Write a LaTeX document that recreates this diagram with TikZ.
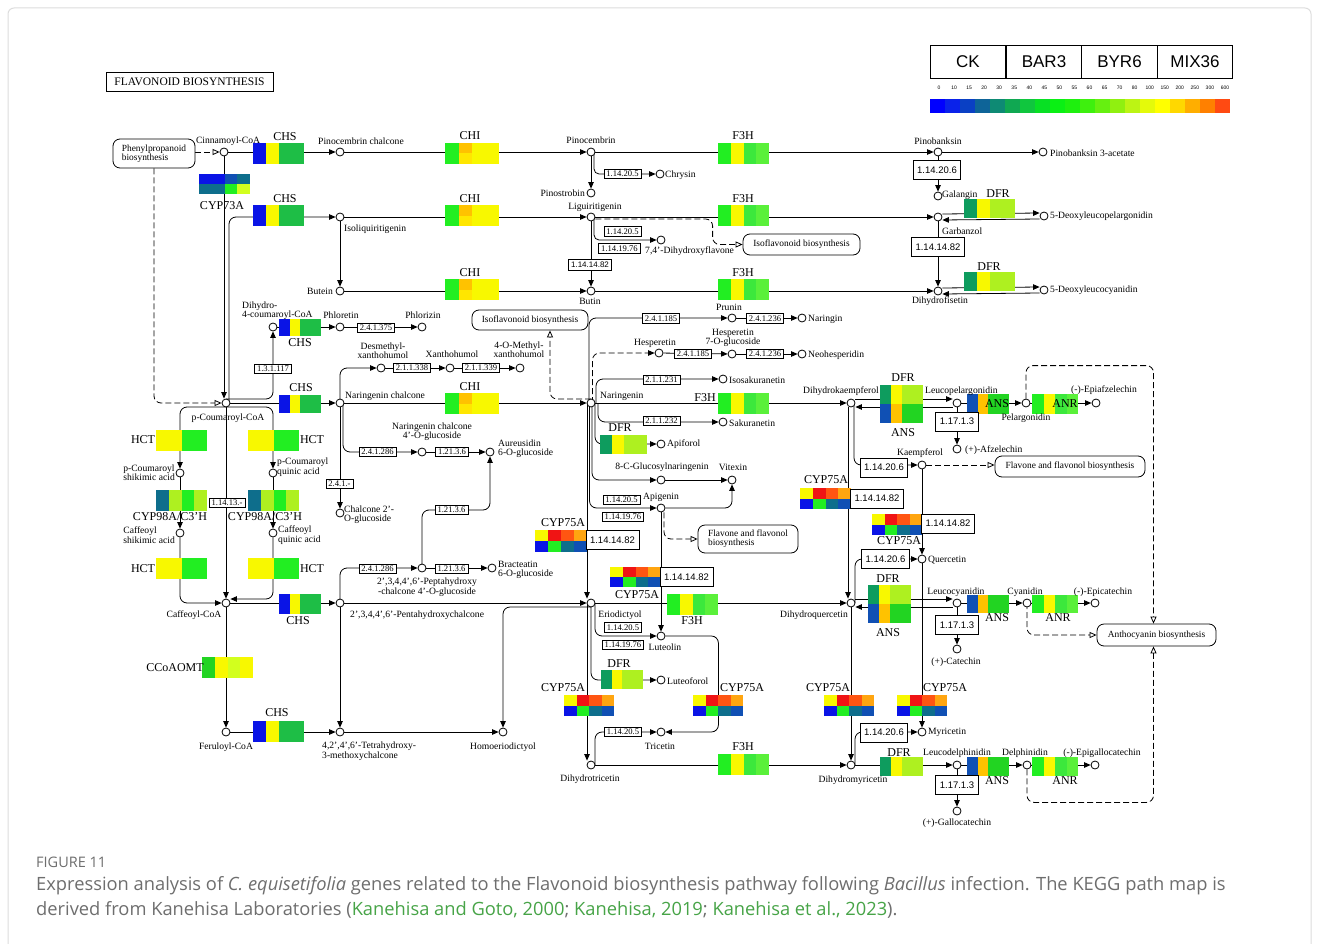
\documentclass[tikz,border=0pt]{standalone}
\usepackage{fontspec}
\setmainfont{Liberation Serif}
\newfontfamily\arialf{Liberation Sans}
\newfontfamily\capf{Open Sans}
\usetikzlibrary{arrows.meta}
\pgfdeclarelayer{bg}
\pgfsetlayers{bg,main}

\definecolor{kblue}{HTML}{0A14E6}
\definecolor{kblue2}{HTML}{1050B4}
\definecolor{kteal}{HTML}{0E6E8C}
\definecolor{kdgreen}{HTML}{0E9C5E}
\definecolor{kgreen}{HTML}{1EBE46}
\definecolor{kbright}{HTML}{22EE22}
\definecolor{kgreen2}{HTML}{3CE83C}
\definecolor{kgreen3}{HTML}{5AF03A}
\definecolor{kgreen4}{HTML}{22D422}
\definecolor{klime}{HTML}{AEF020}
\definecolor{klime2}{HTML}{D2FF1E}
\definecolor{kyel}{HTML}{F8F800}
\definecolor{kyel2}{HTML}{FFE600}
\definecolor{kgold}{HTML}{FFC200}
\definecolor{korange}{HTML}{FFA510}
\definecolor{kredor}{HTML}{FF5512}
\definecolor{kred}{HTML}{F01414}
\definecolor{capgray}{HTML}{6E6E6E}
\definecolor{capgreen}{HTML}{47A447}
\definecolor{framegray}{HTML}{DDDDDD}

% gene box: x, y, cell width, height, colours
\newcommand\gbox[5]{\foreach \gc [count=\gi from 0] in {#5} {\fill[\gc] ({#1+\gi*#3},#2) rectangle ++(#3,#4);}}

\begin{document}
\begin{tikzpicture}[x=1pt,y=-1pt,
  cpd/.style={circle,draw,fill=white,line width=0.8pt,inner sep=0pt,minimum size=8pt},
  lbl/.style={font=\fontsize{9.6}{9.4}\selectfont,inner sep=0pt,align=center},
  gl/.style={font=\fontsize{12}{12}\selectfont,inner sep=0pt},
  ecs/.style={draw,fill=white,line width=0.7pt,font=\fontsize{8.6}{8.6}\selectfont,inner xsep=2.5pt,inner ysep=1.8pt},
  ecm/.style={draw,fill=white,line width=0.8pt,font=\arialf\fontsize{8}{8}\selectfont,inner xsep=2.5pt,inner ysep=3pt},
  ecb/.style={draw,fill=white,line width=0.9pt,font=\arialf\fontsize{9.5}{9.5}\selectfont,minimum height=19pt,inner xsep=4pt},
  mapbox/.style={draw,fill=white,rounded corners=7pt,line width=0.8pt,font=\fontsize{9.4}{9.4}\selectfont,inner xsep=6pt,inner ysep=3pt},
  rxn/.style={line width=0.8pt,-{Triangle[length=6.5pt,width=5.5pt]}},
  mapl/.style={line width=0.8pt,dash pattern=on 6pt off 3pt,-{Triangle[open,length=7pt,width=6pt]}},
  rc/.style={rounded corners=7pt}]
\useasboundingbox (0,0) rectangle (1319,944);
\begin{pgfonlayer}{bg}
\fill[white] (0,0) rectangle (1319,944);
\end{pgfonlayer}
\draw[framegray,line width=1pt,rounded corners=6pt] (8,8) rectangle (1311,1000);

% title and legend
\node[draw,line width=0.9pt,font=\fontsize{11.5}{11.5}\selectfont,minimum width=167pt,minimum height=19pt,inner sep=0pt] (title) at (189.5,81.5) {FLAVONOID BIOSYNTHESIS};
\foreach \nm/\cx/\tx in {lgA/968/CK,lgB/1044/BAR3,lgC/1119.5/BYR6,lgD/1195/MIX36}
  \node[draw,line width=0.9pt,minimum width=75.8pt,minimum height=33pt,inner sep=0pt,font=\arialf\fontsize{17}{17}\selectfont] (\nm) at (\cx,61.5) {\tx};
\foreach \hc [count=\i from 0] in {0000FF,0A22EA,0A40C4,0E6498,0E8A74,10A852,10C63E,08E024,0AF014,1EF00E,3EF00E,66F010,90F010,BCF414,E4FA0A,FFFF00,FFD800,FFAE00,FF8000,FF4A12}
  {\definecolor{barc}{HTML}{\hc}\fill[barc] ({930+\i*15},99) rectangle ++(15,14);}
\foreach \t [count=\i from 0] in {0,10,15,20,30,35,40,45,50,55,60,65,70,80,100,150,200,250,300,600}
  \node[font=\arialf\fontsize{5}{5}\selectfont,inner sep=0pt] (tk\i) at ({939+\i*15.05},88) {\t};

% gene boxes
\gbox{253}{143}{12.75}{21}{kblue,kyel,kgreen,kgreen}
\gbox{199}{174}{12.75}{10}{kblue,kblue,kblue2,kteal}
\gbox{199}{184}{12.75}{10}{kteal,kteal,kbright,klime2}
\gbox{253}{205}{12.75}{21}{kblue,kyel,kgreen,kgreen}
\foreach \yy in {143,205,279,393} {
  \gbox{445}{\yy}{13.5}{10.5}{kbright,kgold,kyel,kyel}
  \gbox{445}{\yy+10.5}{13.5}{10.5}{kbright,kyel2,kyel,kyel}}
\foreach \yy in {143,205,279,393,754} {\gbox{718}{\yy}{12.75}{21}{kbright,kyel,kgreen2,kgreen3}}
\gbox{667}{594}{12.75}{21}{kbright,kyel,kgreen2,kgreen3}
\gbox{964}{199}{12.75}{19}{kdgreen,kyel,klime,klime}
\gbox{964}{272}{12.75}{19}{kdgreen,kyel,klime,klime}
\gbox{279}{319}{10.5}{17}{kblue,kyel,kgreen,kgreen}
\gbox{279}{395}{10.5}{18}{kblue,kyel,kgreen,kgreen}
\gbox{279}{594}{10.5}{20}{kblue,kyel,kgreen,kgreen}
\gbox{253}{721}{12.75}{21}{kblue,kyel,kgreen,kgreen}
\foreach \xx/\yy in {156/430,248/430,156/558,248/558} {\gbox{\xx}{\yy}{12.75}{21}{kyel,kyel,kbright,kbright}}
\foreach \xx in {156,248} {\gbox{\xx}{490}{12.75}{21}{kteal,klime,kbright,klime}}
\gbox{202}{657}{12.75}{21}{kgreen4,kyel,klime2,kyel}
\gbox{600}{435}{11.75}{19}{kdgreen,kyel,klime,klime}
\gbox{601}{670}{10.5}{19}{kdgreen,kyel,klime,klime}
\gbox{880}{757}{10.75}{19}{kdgreen,kyel,klime,klime}
\foreach \xx/\yy in {880/385,868/585} {
  \gbox{\xx}{\yy}{10.75}{19}{kdgreen,kyel,klime,klime}
  \gbox{\xx}{\yy+19}{10.75}{19}{kblue2,kgold,kgreen4,kgreen4}}
\foreach \yy/\hh in {394/20,595/18,757/19} {
  \gbox{967}{\yy}{10.5}{\hh}{kblue2,kgold,kgreen4,kgreen4}
  \gbox{1032}{\yy}{11.5}{\hh}{kbright,kyel,kgreen2,kgreen3}}
\foreach \xx/\yy/\cw/\hh in {535/530/13/11,610/567/12.75/10,800/488/12.75/10.5,872/514/12.5/10.5,564/695/12.5/10.5,693/695/12.5/10.5,824/695/12.5/10.5,897/695/12.5/10.5} {
  \gbox{\xx}{\yy}{\cw}{\hh}{kyel,kred,kredor,korange}
  \gbox{\xx}{\yy+\hh}{\cw}{\hh}{kblue,kbright,kteal,kblue2}}

% gene labels
\node[gl] (gCHSa) at (285,137) {CHS};
\node[gl] (gCYPta) at (222,206) {CYP73A};
\node[gl] (gCHSb) at (285,199) {CHS};
\node[gl] (gCHIa) at (470,136) {CHI};
\node[gl] (gCHIb) at (470,199) {CHI};
\node[gl] (gCHIc) at (470,273) {CHI};
\node[gl] (gCHId) at (470,387) {CHI};
\node[gl] (gFHa) at (743,136) {F3H};
\node[gl] (gFHb) at (743,199) {F3H};
\node[gl] (gFHc) at (743,273) {F3H};
\node[gl] (gFHd) at (705,398) {F3H};
\node[gl] (gFHe) at (692,621) {F3H};
\node[gl] (gFHf) at (743,747) {F3H};
\node[gl] (gDFRa) at (998,194) {DFR};
\node[gl] (gDFRb) at (989,267) {DFR};
\node[gl] (gCHSc) at (300,343) {CHS};
\node[gl] (gCHSd) at (301,388) {CHS};
\node[gl] (gCHSe) at (298,621) {CHS};
\node[gl] (gCHSf) at (277,713) {CHS};
\node[gl] (gHCTa) at (143,440) {HCT};
\node[gl] (gHCTb) at (312,440) {HCT};
\node[gl] (gHCTc) at (143,569) {HCT};
\node[gl] (gHCTd) at (312,569) {HCT};
\node[gl] (gCYPna) at (170,517) {CYP98A/C3'H};
\node[gl] (gCYPnb) at (265,517) {CYP98A/C3'H};
\node[gl] (gCCo) at (175,668) {CCoAOMT};
\node[gl] (gDFRc) at (620,428) {DFR};
\node[gl] (gDFRd) at (619,664) {DFR};
\node[gl] (gDFRe) at (903,378) {DFR};
\node[gl] (gANSa) at (903,433) {ANS};
\node[gl] (gDFRf) at (888,579) {DFR};
\node[gl] (gANSb) at (888,633) {ANS};
\node[gl] (gDFRg) at (899,753) {DFR};
\node[gl] (gANSc) at (997,404) {ANS};
\node[gl] (gANRa) at (1065,404) {ANR};
\node[gl] (gANSd) at (997,618) {ANS};
\node[gl] (gANRb) at (1058,618) {ANR};
\node[gl] (gANSe) at (997,781) {ANS};
\node[gl] (gANRc) at (1065,781) {ANR};
\node[gl] (gCYPa) at (563,523) {CYP75A};
\node[gl] (gCYPb) at (637,595) {CYP75A};
\node[gl] (gCYPc) at (826,480) {CYP75A};
\node[gl] (gCYPd) at (899,541) {CYP75A};
\node[gl] (gCYPe) at (563,688) {CYP75A};
\node[gl] (gCYPf) at (742,688) {CYP75A};
\node[gl] (gCYPg) at (828,688) {CYP75A};
\node[gl] (gCYPh) at (945,688) {CYP75A};

% compounds
\node[cpd] (cinn) at (224,152) {};
\node[cpd] (pcc) at (340,152) {};
\node[cpd] (pinoc) at (591,152) {};
\node[cpd] (pinob) at (938,152) {};
\node[cpd] (pinoba) at (1043,152) {};
\node[cpd] (chrys) at (660,174) {};
\node[cpd] (pinos) at (591,193) {};
\node[cpd] (galan) at (938,196) {};
\node[cpd] (isoliq) at (340,217) {};
\node[cpd] (liqui) at (591,217) {};
\node[cpd] (garb) at (938,217) {};
\node[cpd] (dlp) at (1044,216) {};
\node[cpd] (dhf74) at (661,240) {};
\node[cpd] (butein) at (340,291) {};
\node[cpd] (butin) at (591,291) {};
\node[cpd] (dhfis) at (938,291) {};
\node[cpd] (dlc) at (1044,290) {};
\node[cpd] (dhcoum) at (273,327) {};
\node[cpd] (phlor) at (340,327) {};
\node[cpd] (phlz) at (422,327) {};
\node[cpd] (prunin) at (732,318) {};
\node[cpd] (naring) at (802,318) {};
\node[cpd] (desm) at (381,368) {};
\node[cpd] (xanth) at (450,368) {};
\node[cpd] (mxanth) at (520,368) {};
\node[cpd] (hesp) at (659,353) {};
\node[cpd] (hesg) at (732,354) {};
\node[cpd] (neoh) at (802,354) {};
\node[cpd] (isos) at (723,379) {};
\node[cpd] (pcoum) at (226,403) {};
\node[cpd] (nchal) at (340,403) {};
\node[cpd] (ngn) at (591,403) {};
\node[cpd] (dhk) at (851,403) {};
\node[cpd] (leucp) at (957,403) {};
\node[cpd] (pelar) at (1026,403) {};
\node[cpd] (epiaf) at (1096,403) {};
\node[cpd] (sakur) at (723,422) {};
\node[cpd] (apif) at (661,444) {};
\node[cpd] (afzel) at (957,449) {};
\node[cpd] (ncg) at (422,452) {};
\node[cpd] (aureu) at (490,452) {};
\node[cpd] (kaemp) at (922,465) {};
\node[cpd] (pcsa) at (180,473) {};
\node[cpd] (pcqa) at (273,473) {};
\node[cpd] (cgn) at (661,480) {};
\node[cpd] (vitex) at (732,480) {};
\node[cpd] (apig) at (661,508) {};
\node[cpd] (ctg) at (340,513) {};
\node[cpd] (csa) at (180,533) {};
\node[cpd] (cqa) at (273,533) {};
\node[cpd] (querc) at (922,559) {};
\node[cpd] (phg) at (422,568) {};
\node[cpd] (bract) at (492,568) {};
\node[cpd] (caff) at (226,603) {};
\node[cpd] (phc) at (340,603) {};
\node[cpd] (erio) at (591,603) {};
\node[cpd] (dhq) at (851,603) {};
\node[cpd] (leucc) at (957,603) {};
\node[cpd] (cyan) at (1027,603) {};
\node[cpd] (epic) at (1095,603) {};
\node[cpd] (luteol) at (661,636) {};
\node[cpd] (catech) at (957,649) {};
\node[cpd] (luteof) at (661,680) {};
\node[cpd] (fer) at (226,732) {};
\node[cpd] (thmc) at (340,732) {};
\node[cpd] (homo) at (503,732) {};
\node[cpd] (tric) at (661,732) {};
\node[cpd] (myric) at (922,732) {};
\node[cpd] (dht) at (591,765) {};
\node[cpd] (dhm) at (851,765) {};
\node[cpd] (leucd) at (957,765) {};
\node[cpd] (delph) at (1027,765) {};
\node[cpd] (epig) at (1095,765) {};
\node[cpd] (gallo) at (957,811) {};

% map links
\node[mapbox,align=left,minimum width=82pt,minimum height=29pt] (mPhen) at (154,153.5) {Phenylpropanoid\\biosynthesis};
\node[mapbox,minimum width=117pt,minimum height=21pt] (mIsoA) at (801.5,244.5) {Isoflavonoid biosynthesis};
\node[mapbox,minimum width=116pt,minimum height=20pt] (mIsoB) at (530,320) {Isoflavonoid biosynthesis};
\node[mapbox,align=left,minimum width=100pt,minimum height=28pt] (mFlavA) at (748,539) {Flavone and flavonol\\biosynthesis};
\node[mapbox,minimum width=150pt,minimum height=21pt] (mFlavB) at (1070,466.5) {Flavone and flavonol biosynthesis};
\node[mapbox,minimum width=119pt,minimum height=22pt] (mAntho) at (1156.5,635) {Anthocyanin biosynthesis};

% EC numbers
\node[ecs] (e1) at (622.5,174) {1.14.20.5};
\node[ecs] (e2) at (622.5,231.5) {1.14.20.5};
\node[ecs] (e3) at (619.5,248.5) {1.14.19.76};
\node[ecm] (e4) at (590,265) {1.14.14.82};
\node[ecs] (e5) at (376,328) {2.4.1.375};
\node[ecs] (e6) at (273,369) {1.3.1.117};
\node[ecs] (e7) at (412,368) {2.1.1.338};
\node[ecs] (e8) at (481,368) {2.1.1.339};
\node[ecs] (e9) at (661,318.5) {2.4.1.185};
\node[ecs] (e10) at (765,318.5) {2.4.1.236};
\node[ecs] (e11) at (693,354) {2.4.1.185};
\node[ecs] (e12) at (765,354) {2.4.1.236};
\node[ecs] (e13) at (661.5,380) {2.1.1.231};
\node[ecs] (e14) at (661.5,421) {2.1.1.232};
\node[ecs] (e15) at (377.5,452) {2.4.1.286};
\node[ecs] (e16) at (452,452) {1.21.3.6};
\node[ecs] (e17) at (339.5,484) {2.4.1.-};
\node[ecs] (e18) at (227,503) {1.14.13.-};
\node[ecs] (e19) at (451.5,510) {1.21.3.6};
\node[ecs] (e20) at (377.5,569) {2.4.1.286};
\node[ecs] (e21) at (451.5,569) {1.21.3.6};
\node[ecs] (e22) at (621.5,500) {1.14.20.5};
\node[ecs] (e23) at (623,517) {1.14.19.76};
\node[ecs] (e24) at (623,627.5) {1.14.20.5};
\node[ecs] (e25) at (623,645) {1.14.19.76};
\node[ecs] (e26) at (623,732) {1.14.20.5};
\node[ecb] (E1) at (937,170) {1.14.20.6};
\node[ecb] (E2) at (938,247) {1.14.14.82};
\node[ecb] (E3) at (612.5,540) {1.14.14.82};
\node[ecb] (E4) at (686.5,577) {1.14.14.82};
\node[ecb] (E5) at (877,498.5) {1.14.14.82};
\node[ecb] (E6) at (948,523.5) {1.14.14.82};
\node[ecb] (E7) at (884,467.5) {1.14.20.6};
\node[ecb] (E8) at (885.5,559) {1.14.20.6};
\node[ecb] (E9) at (884,732.5) {1.14.20.6};
\node[ecb] (E10) at (957,421.5) {1.17.1.3};
\node[ecb] (E11) at (957,625) {1.17.1.3};
\node[ecb] (E12) at (957,785) {1.17.1.3};

% compound names
\node[lbl] (tCinn) at (228,141) {Cinnamoyl-CoA};
\node[lbl,anchor=west] (tPcc) at (318,141) {Pinocembrin chalcone};
\node[lbl] (tPinoc) at (591,140) {Pinocembrin};
\node[lbl] (tPinob) at (938,141) {Pinobanksin};
\node[lbl,anchor=west] (tPinoba) at (1050,153) {Pinobanksin 3-acetate};
\node[lbl,anchor=west] (tChrys) at (665,175) {Chrysin};
\node[lbl,anchor=east] (tPinos) at (585,193) {Pinostrobin};
\node[lbl,anchor=west] (tGalan) at (942,195) {Galangin};
\node[lbl,anchor=west] (tIsoliq) at (344,229) {Isoliquiritigenin};
\node[lbl] (tLiqui) at (595,207) {Liguiritigenin};
\node[lbl,anchor=west] (tGarb) at (942,231) {Garbanzol};
\node[lbl,anchor=west] (tDlp) at (1050,216) {5-Deoxyleucopelargonidin};
\node[lbl,anchor=west] (tDhf) at (645,251) {7,4'-Dihydroxyflavone};
\node[lbl,anchor=east] (tButein) at (333,291) {Butein};
\node[lbl] (tButin) at (590,301) {Butin};
\node[lbl] (tDhfis) at (940,301) {Dihydrofisetin};
\node[lbl,anchor=west] (tDlc) at (1050,290) {5-Deoxyleucocyanidin};
\node[lbl,anchor=west,align=left] (tDhcoum) at (242,311) {Dihydro-\\4-coumaroyl-CoA};
\node[lbl] (tPhlor) at (341,315) {Phloretin};
\node[lbl] (tPhlz) at (423,315) {Phlorizin};
\node[lbl] (tPrunin) at (729,307) {Prunin};
\node[lbl,anchor=west] (tNaring) at (808,319) {Naringin};
\node[lbl] (tDesm) at (383,351) {Desmethyl-\\xanthohumol};
\node[lbl] (tXanth) at (452,354) {Xanthohumol};
\node[lbl] (tMxanth) at (519,350) {4-O-Methyl-\\xanthohumol};
\node[lbl] (tHesp) at (655,343) {Hesperetin};
\node[lbl] (tHesg) at (733,338) {Hesperetin\\7-O-glucoside};
\node[lbl,anchor=west] (tNeoh) at (808,355) {Neohesperidin};
\node[lbl,anchor=west] (tIsos) at (729,380) {Isosakuranetin};
\node[lbl] (tPcoum) at (228,418) {p-Coumaroyl-CoA};
\node[lbl,anchor=west] (tNchal) at (345,396) {Naringenin chalcone};
\node[lbl,anchor=west] (tNgn) at (600,396) {Naringenin};
\node[lbl] (tDhk) at (841,391) {Dihydrokaempferol};
\node[lbl,anchor=west] (tLeucp) at (925,391) {Leucopelargonidin};
\node[lbl] (tPelar) at (1026,418) {Pelargonidin};
\node[lbl] (tEpiaf) at (1104,390) {(-)-Epiafzelechin};
\node[lbl,anchor=west] (tSakur) at (729,423) {Sakuranetin};
\node[lbl,anchor=west] (tApif) at (667,444) {Apiforol};
\node[lbl,anchor=west] (tAfzel) at (965,450) {(+)-Afzelechin};
\node[lbl] (tNcg) at (432,432) {Naringenin chalcone\\4'-O-glucoside};
\node[lbl,anchor=west,align=left] (tAureu) at (498,449) {Aureusidin\\6-O-glucoside};
\node[lbl] (tKaemp) at (920,453) {Kaempferol};
\node[lbl,anchor=east,align=left] (tPcsa) at (175,473) {p-Coumaroyl\\shikimic acid};
\node[lbl,anchor=west,align=left] (tPcqa) at (277,467) {p-Coumaroyl\\quinic acid};
\node[lbl] (tCgn) at (662,467) {8-C-Glucosylnaringenin};
\node[lbl] (tVitex) at (733,467) {Vitexin};
\node[lbl] (tApig) at (661,497) {Apigenin};
\node[lbl,anchor=west,align=left] (tCtg) at (344,515) {Chalcone 2'-\\O-glucoside};
\node[lbl,anchor=east,align=left] (tCsa) at (175,535) {Caffeoyl\\shikimic acid};
\node[lbl,anchor=west,align=left] (tCqa) at (278,535) {Caffeoyl\\quinic acid};
\node[lbl,anchor=west] (tQuerc) at (928,560) {Quercetin};
\node[lbl] (tPhg) at (427,587) {2',3,4,4',6'-Peptahydroxy\\-chalcone 4'-O-glucoside};
\node[lbl,anchor=west,align=left] (tBract) at (498,570) {Bracteatin\\6-O-glucoside};
\node[lbl] (tCaff) at (194,615) {Caffeoyl-CoA};
\node[lbl,anchor=west] (tPhc) at (350,615) {2',3,4,4',6'-Pentahydroxychalcone};
\node[lbl] (tErio) at (620,615) {Eriodictyol};
\node[lbl] (tDhq) at (814,615) {Dihydroquercetin};
\node[lbl] (tLeucc) at (956,592) {Leucocyanidin};
\node[lbl] (tCyan) at (1025,592) {Cyanidin};
\node[lbl] (tEpic) at (1103,592) {(-)-Epicatechin};
\node[lbl] (tLuteol) at (665,647) {Luteolin};
\node[lbl] (tCatech) at (956,662) {(+)-Catechin};
\node[lbl,anchor=west] (tLuteof) at (667,681) {Luteoforol};
\node[lbl] (tFer) at (226,747) {Feruloyl-CoA};
\node[lbl,anchor=west,align=left] (tThmc) at (322,751) {4,2',4',6'-Tetrahydroxy-\\3-methoxychalcone};
\node[lbl] (tHomo) at (503,747) {Homoeriodictyol};
\node[lbl] (tTric) at (660,746) {Tricetin};
\node[lbl,anchor=west] (tMyric) at (928,732) {Myricetin};
\node[lbl] (tDht) at (590,779) {Dihydrotricetin};
\node[lbl] (tDhm) at (853,780) {Dihydromyricetin};
\node[lbl] (tLeucd) at (957,753) {Leucodelphinidin};
\node[lbl] (tDelph) at (1025,753) {Delphinidin};
\node[lbl] (tEpig) at (1102,753) {(-)-Epigallocatechin};
\node[lbl] (tGallo) at (957,823) {(+)-Gallocatechin};

% connectors
\begin{pgfonlayer}{bg}
\draw[mapl] (cinn -| mPhen.east) -- (cinn);
\draw[mapl,rc] (mPhen.south) |- (pcoum);
\draw[rxn] (cinn) -- (pcc);
\draw[rxn] (cinn) -- (cinn |- pcoum.north);
\draw[rxn,rc] ([xshift=3pt]pcoum.center) |- (isoliq);
\draw[rxn] (pcc) -- (pinoc);
\draw[rxn] (pinoc) -- (pinob);
\draw[rxn] (pinob) -- (pinoba);
\draw[rxn] (pinoc) -- (pinos);
\draw[rxn,rounded corners=5pt] ([xshift=3pt]pinoc.center) |- (chrys);
\draw[rxn] (pinob) -- (galan);
\draw[rxn] (isoliq) -- (liqui);
\draw[rxn] (liqui) -- (garb);
\draw[rxn] ([yshift=3pt]garb.east) -- ([yshift=3pt]dlp.west);
\draw[rxn] ([yshift=-3pt]dlp.west) -- ([yshift=-3pt]garb.east);
\draw[rxn] (garb) -- (dhfis);
\draw[mapl,rc] ([yshift=-2pt]liqui.east) -| ([xshift=-30pt]mIsoA.west) -- (mIsoA.west);
\draw[rxn,rounded corners=5pt] ([xshift=3pt]liqui.center) |- (dhf74);
\draw[rxn] (liqui) -- (butin);
\draw[rxn] (isoliq) -- (butein);
\draw[rxn] (butein) -- (butin);
\draw[rxn] (butin) -- (dhfis);
\draw[rxn] ([yshift=3pt]dhfis.east) -- ([yshift=3pt]dlc.west);
\draw[rxn] ([yshift=-3pt]dlc.west) -- ([yshift=-3pt]dhfis.east);
\draw[rxn,rc] ([yshift=4pt]pcoum.center) -| (dhcoum);
\draw[rxn] (dhcoum) -- (phlor);
\draw[rxn] (phlor) -- (phlz);
\draw[rxn] (pcoum) -- (nchal);
\draw[rxn,rc] (nchal.center) |- (desm);
\draw[rxn] (desm) -- (xanth);
\draw[rxn] (xanth) -- (mxanth);
\draw[rxn] (nchal) -- (ngn);
\draw[rxn,rc] ([xshift=3pt]nchal.center) |- (ncg);
\draw[rxn] (nchal) -- (ctg);
\draw[rxn] (ncg) -- (aureu);
\draw[mapl,rc] ([yshift=4pt]ngn.center) -| ([xshift=20pt]mIsoB.south);
\draw[rxn,rc] ([xshift=-2pt]ngn.center) |- (prunin);
\draw[rxn,rc,dash pattern=on 6pt off 3pt] ([xshift=1.5pt]ngn.center) |- (hesp);
\draw[rxn,rc] ([xshift=5pt]ngn.center) |- (isos);
\draw[rxn] (prunin) -- (naring);
\draw[rxn] (hesp) -- (hesg);
\draw[rxn] (hesg) -- (neoh);
\draw[rxn] (ngn) -- (dhk);
\draw[rxn,rc] ([xshift=7pt]ngn.center) |- (sakur);
\draw[rxn,rc] ([xshift=4pt]ngn.center) |- (apif);
\draw[rxn,rc] ([xshift=1pt]ngn.center) |- (cgn);
\draw[rxn,rc] ([xshift=-1.5pt]ngn.center) |- (apig);
\draw[rxn] ([xshift=-4pt]ngn.center) -- ([xshift=-4pt]erio.north);
\draw[rxn] (cgn) -- (vitex);
\draw[rxn,rc] (apig) -| (vitex);
\draw[rxn] (apig) -- (luteol);
\draw[mapl,rc] ([xshift=3pt]apig.south) |- (mFlavA.west);
\draw[rxn] (phc) -- (erio);
\draw[rxn] (erio) -- (dhq);
\draw[rxn,rc] ([yshift=-4pt]erio.center) -| (homo);
\draw[rxn,rc] ([xshift=4pt]erio.center) |- (luteol);
\draw[rxn,rc] (erio.center) |- (luteof);
\draw[rxn] ([xshift=-4pt]erio.center) -- ([xshift=-4pt]dht.north);
\draw[rxn,rc] (luteol.east) -| ([xshift=53pt]tric.east) -- (tric.east);
\draw[rxn,rc] ([xshift=4pt]dht.center) |- (tric);
\draw[rxn] (dht) -- (dhm);
\draw[rxn] ([xshift=-3pt]dhk.south) -- ([xshift=-3pt]dhq.north);
\draw[rxn,rc] ([xshift=3pt]dhk.center) |- (kaemp);
\draw[mapl] (kaemp) -- (kaemp -| mFlavB.west);
\draw[rxn] (kaemp) -- (querc);
\draw[rxn,rc] ([xshift=4pt]dhq.center) |- (querc);
\draw[rxn] ([yshift=4pt]dhk.east) -- ([yshift=4pt]leucp.west);
\draw[rxn] ([yshift=-4pt]leucp.west) -- ([yshift=-4pt]dhk.east);
\draw[rxn] (leucp) -- (pelar);
\draw[rxn] (pelar) -- (epiaf);
\draw[rxn] (leucp) -- (afzel);
\draw[mapl,rc] (pelar.north) -- ++(0,-33) -| ([xshift=-3pt]mAntho.north);
\draw[rxn] ([yshift=4pt]dhq.east) -- ([yshift=4pt]leucc.west);
\draw[rxn] ([yshift=-4pt]leucc.west) -- ([yshift=-4pt]dhq.east);
\draw[rxn] (leucc) -- (cyan);
\draw[rxn] (cyan) -- (epic);
\draw[rxn] (leucc) -- (catech);
\draw[mapl,rc] (cyan.center) |- (mAntho.west);
\draw[rxn] (dhq) -- (dhm);
\draw[rxn] (querc) -- (myric);
\draw[rxn,rc] ([xshift=4pt]dhm.center) |- (myric);
\draw[rxn] (dhm) -- (leucd);
\draw[rxn] (leucd) -- (delph);
\draw[rxn] (delph) -- (epig);
\draw[rxn] (leucd) -- (gallo);
\draw[mapl,rc] (delph.south) -- ++(0,33) -| ([xshift=-3pt]mAntho.south);
\draw[rxn,rc] ([yshift=-4pt]pcoum.center) -| (pcsa);
\draw[rxn,rc] ([yshift=-4pt]pcoum.center) -| (pcqa);
\draw[rxn] (pcoum) -- (caff);
\draw[rxn] (pcsa) -- (csa);
\draw[rxn] (pcqa) -- (cqa);
\draw[rxn,rc] (csa) |- (caff);
\draw[rxn,rc] (cqa) |- ([yshift=4pt]caff.east);
\draw[rxn] (caff) -- (phc);
\draw[rxn] (caff) -- (fer);
\draw[rxn] (fer) -- (thmc);
\draw[rxn] (phc) -- (thmc);
\draw[rxn] (thmc) -- (homo);
\draw[rxn,rc] (phc.center) |- (phg);
\draw[rxn] (phg) -- (bract);
\draw[rxn,rc] (phg.center) |- (e19.west) -- (e19.east) -| (aureu);
\end{pgfonlayer}

% caption
\node[anchor=west,inner sep=0pt,text=capgray,font=\capf\fontsize{14.5}{14.5}\selectfont] (capA) at (36,862) {FIGURE 11};
\node[anchor=west,inner sep=0pt,text=capgray,font=\capf\fontsize{18.3}{18.3}\selectfont] (capB) at (36,886) {Expression analysis of \textit{C. equisetifolia} genes related to the Flavonoid biosynthesis pathway following \textit{Bacillus} infection. The KEGG path map is};
\node[anchor=west,inner sep=0pt,text=capgray,font=\capf\fontsize{18.3}{18.3}\selectfont] (capC) at (36,910) {derived from Kanehisa Laboratories (\textcolor{capgreen}{Kanehisa and Goto, 2000}; \textcolor{capgreen}{Kanehisa, 2019}; \textcolor{capgreen}{Kanehisa et al., 2023}).};
\end{tikzpicture}
\end{document}
